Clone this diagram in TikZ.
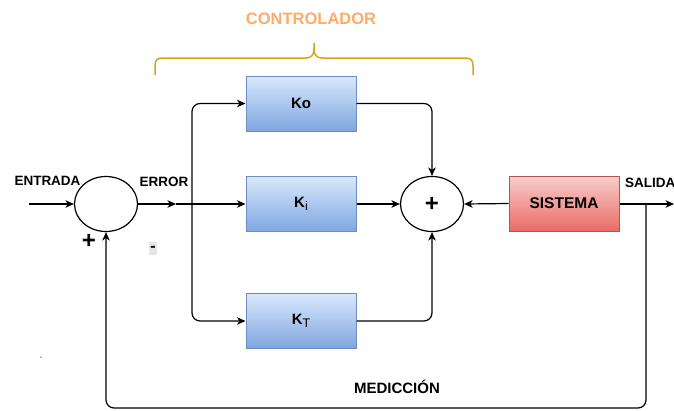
\documentclass[tikz,border=0pt]{standalone}
\usepackage{fontspec}
\setmainfont{Liberation Sans}
\usetikzlibrary{arrows.meta,shapes.geometric}

\definecolor{kTop}{HTML}{DAE8FC}
\definecolor{kBot}{HTML}{7EA6E0}
\definecolor{kLine}{HTML}{6C8EBF}
\definecolor{sTop}{HTML}{F8CECC}
\definecolor{sBot}{HTML}{EA6B66}
\definecolor{sLine}{HTML}{B85450}
\definecolor{ctrlText}{HTML}{FFAA66}
\definecolor{braceCol}{HTML}{D6A419}
\definecolor{minusBg}{HTML}{E6E6E6}

\newcommand{\subtxt}[1]{\raisebox{-3.5pt}{\fontsize{12.5}{14}\selectfont\mdseries #1}}

\tikzset{
  wire/.style={line width=1.2pt, draw=black},
  arr/.style={wire, -{Stealth[length=8.5pt,width=7.5pt,inset=2.5pt]}},
  kbox/.style={draw=kLine, line width=1pt, top color=kTop, bottom color=kBot,
    minimum width=110pt, minimum height=55pt, inner sep=0pt,
    font=\fontsize{15}{18}\selectfont\bfseries},
  sbox/.style={draw=sLine, line width=1pt, top color=sTop, bottom color=sBot,
    minimum width=110pt, minimum height=55pt, inner sep=0pt,
    font=\fontsize{15.5}{18}\selectfont\bfseries},
  summer/.style={draw, ellipse, line width=1.2pt, minimum width=63pt,
    minimum height=55pt, inner sep=0pt, fill=white,
    font=\fontsize{24}{24}\selectfont\bfseries},
  lbl/.style={font=\fontsize{13.5}{16}\selectfont\bfseries, inner sep=0pt},
  sign/.style={font=\fontsize{24}{24}\selectfont\bfseries, inner sep=0pt}
}

\begin{document}
\begin{tikzpicture}[x=1pt, y=-1pt]
  \useasboundingbox (0,0) rectangle (674,410);

  % controller title and brace
  \node[font=\fontsize{16.5}{19}\selectfont\bfseries, text=ctrlText] (ctrl) at (311,19) {CONTROLADOR};
  \draw[braceCol, line width=1.5pt]
    (155,75) -- (155,66) .. controls (155,60) and (157,58) .. (163,58)
    -- (306,58) .. controls (311,58) and (314,55) .. (314,49) -- (314,43)
    (314,49) .. controls (314,55) and (317,58) .. (322,58)
    -- (465,58) .. controls (471,58) and (473,60) .. (473,66) -- (473,75);

  % blocks
  \node[summer] (s1) at (106,204) {};
  \node[kbox] (ko) at (301,103.5) {Ko};
  \node[kbox] (ki) at (301,204) {K\subtxt{i}};
  \node[kbox] (kt) at (301,321) {K\subtxt{T}};
  \node[summer] (s2) at (432,204) {+};
  \node[sbox] (sys) at (564,203.5) {SISTEMA};

  % labels
  \node[lbl] (lin) at (47.5,181) {ENTRADA};
  \node[lbl] (lerr) at (164,182) {ERROR};
  \node[lbl, anchor=west] (lout) at (625,183) {SALIDA};
  \node[font=\fontsize{15}{18}\selectfont\bfseries] (lmed) at (397,387) {MEDICCIÓN};
  \node[sign] (plus) at (89,241) {+};
  \node[fill=minusBg, minimum width=8pt, minimum height=13pt, inner sep=0pt,
        font=\fontsize{16}{16}\selectfont\bfseries] (minus) at (153,248.5) {-};
  \node[font=\fontsize{7}{8}\selectfont, inner sep=0pt] (dot) at (41,358) {-};

  % helper points
  \coordinate (in) at (29,204);
  \coordinate (etip) at (176,204);
  \coordinate (j) at (192,204);
  \coordinate (out) at (674,204);
  \coordinate (br) at (646,204);
  \coordinate (fb) at (646,408);

  % signal flow
  \draw[arr] (in) -- (s1.west);
  \draw[arr] (s1.east) -- (etip);
  \draw[wire] (etip) -- (j);
  \draw[arr] (j) -- (ki.west);
  \draw[arr, rounded corners=8pt] (j) |- (ko.west);
  \draw[arr, rounded corners=8pt] (j) |- (kt.west);
  \draw[arr, rounded corners=8pt] (ko.east) -| (s2.north);
  \draw[arr] (ki.east) -- (s2.west);
  \draw[arr, rounded corners=8pt] (kt.east) -| (s2.south);
  \draw[arr] (sys.west) -- (s2.east);
  \draw[arr] (sys.east |- out) -- (out);
  \draw[arr, rounded corners=8pt] (br) -- (fb) -| (s1.south);
\end{tikzpicture}
\end{document}
